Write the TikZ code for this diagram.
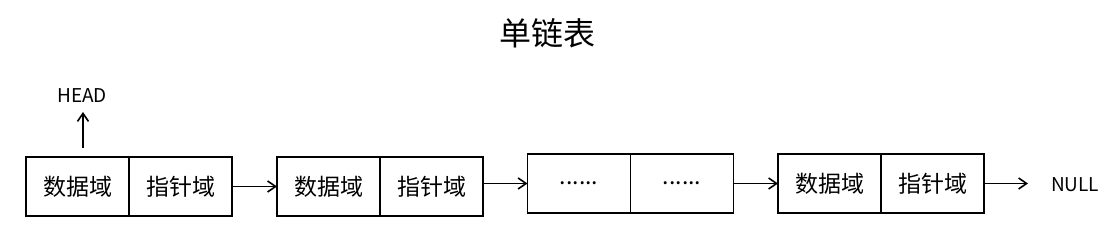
\documentclass[tikz,border=0pt]{standalone}
\usepackage{fontspec}
\setmainfont{Noto Sans CJK SC}
\usetikzlibrary{arrows.meta,positioning}

\begin{document}
\begin{tikzpicture}[
  x=1pt,y=-1pt,
  cell/.style={draw,line width=1.4pt,minimum width=103pt,minimum height=59pt,
               inner sep=0pt,outer sep=0pt,font=\fontsize{23}{26}\selectfont},
  tag/.style={font=\fontsize{19}{21}\selectfont,inner sep=0pt},
  arrow/.style={-{Straight Barb[length=8pt,width=11pt]},line width=1.6pt}
]
\useasboundingbox (0,0) rectangle (1120,248);
\node[font=\fontsize{32}{35}\selectfont] (title) at (547,33) {单链表};

% nodes of the list
\node[cell] (d1) at (77.5,186.5) {数据域};
\node[cell,anchor=west] (p1) at (d1.east) {指针域};
\node[cell] (d2) at (328.5,186.5) {数据域};
\node[cell,anchor=west] (p2) at (d2.east) {指针域};
\node[cell] (d3) at (579,183.5) {......};
\node[cell,anchor=west] (p3) at (d3.east) {......};
\node[cell] (d4) at (829.5,183.5) {数据域};
\node[cell,anchor=west] (p4) at (d4.east) {指针域};

\node[tag] (head) at (82,96) {HEAD};
\node[tag,anchor=west] (null) at (1051,185) {NULL};
\coordinate (hbot) at (83,148);
\coordinate (htop) at (83,112);
\coordinate (nend) at (1028,183.5);

\draw[arrow] (hbot) -- (htop);
\draw[arrow] (p1.east) -- (d2.west);
\draw[arrow] (p2.east |- d3.west) -- (d3.west);
\draw[arrow] (p3.east) -- (d4.west);
\draw[arrow] (p4.east) -- (nend);
\end{tikzpicture}
\end{document}
